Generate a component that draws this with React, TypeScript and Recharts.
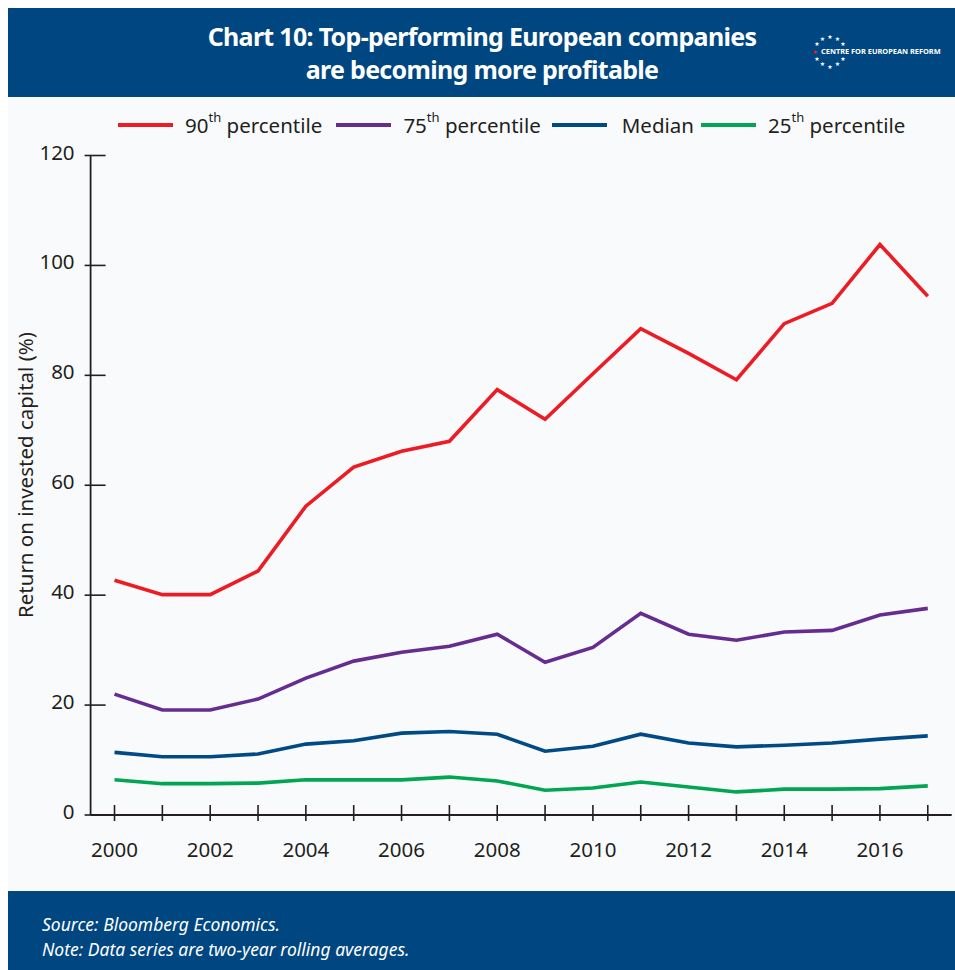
import React from 'react';
import { LineChart, Line, XAxis, YAxis } from 'recharts';

const years = [2000, 2001, 2002, 2003, 2004, 2005, 2006, 2007, 2008, 2009, 2010, 2011, 2012, 2013, 2014, 2015, 2016, 2017];
const p90 = [42.7, 40.1, 40.1, 44.4, 56.2, 63.3, 66.2, 68.0, 77.4, 72.0, 80.3, 88.5, 84.0, 79.2, 89.4, 93.1, 103.8, 94.4];
const p75 = [22.0, 19.1, 19.1, 21.1, 24.9, 28.0, 29.6, 30.7, 32.9, 27.8, 30.5, 36.7, 32.9, 31.8, 33.3, 33.6, 36.4, 37.6];
const median = [11.4, 10.6, 10.6, 11.1, 12.9, 13.5, 14.9, 15.2, 14.7, 11.6, 12.5, 14.7, 13.1, 12.4, 12.7, 13.1, 13.8, 14.4];
const p25 = [6.4, 5.7, 5.7, 5.8, 6.4, 6.4, 6.4, 6.9, 6.2, 4.5, 4.9, 6.0, 5.1, 4.2, 4.7, 4.7, 4.8, 5.3];
const yTicks = [0, 20, 40, 60, 80, 100, 120];

const series = [
  { key: 'p90', ord: '90', label: 'percentile', color: '#ed1c24', values: p90 },
  { key: 'p75', ord: '75', label: 'percentile', color: '#662d91', values: p75 },
  { key: 'median', ord: '', label: 'Median', color: '#004a85', values: median },
  { key: 'p25', ord: '25', label: 'percentile', color: '#00a651', values: p25 },
];
const legendGaps = [14, 11, 7, 0];

const data = years.map((year, i) => {
  const row: Record<string, number> = { year };
  series.forEach((s) => { row[s.key] = s.values[i]; });
  return row;
});

const FONT = '"Noto Sans", "Open Sans", sans-serif';
const INK = '#231f20';
const NAVY = '#004680';

const XTick = (props: any) => {
  const { x, y, payload } = props;
  const yr = payload.value;
  return (
    <g>
      <line x1={x} y1={y} x2={x} y2={y - 16} stroke={INK} strokeWidth={1.6} />
      {yr % 2 === 0 && (
        <text x={x} y={y + 28} textAnchor="middle" dominantBaseline="central" fontSize={20.5} fill={INK} fontFamily={FONT}>
          {yr}
        </text>
      )}
    </g>
  );
};

const YTick = (props: any) => {
  const { x, y, payload } = props;
  return (
    <g>
      <line x1={x} y1={y} x2={x + 21} y2={y} stroke={INK} strokeWidth={1.6} />
      <text x={x - 10} y={y - 4} textAnchor="end" dominantBaseline="central" fontSize={20.5} fill={INK} fontFamily={FONT}>
        {payload.value}
      </text>
    </g>
  );
};

const Logo = () => {
  const stars = [];
  for (let i = 0; i < 12; i++) {
    const a = (i / 12) * Math.PI * 2;
    stars.push(
      <text key={i} x={22 + 15 * Math.cos(a)} y={26 + 15 * Math.sin(a)} fontSize={6} fill={i === 6 ? '#ed1c24' : '#fff'} textAnchor="middle" dominantBaseline="central" fontFamily="DejaVu Sans">★</text>
    );
  }
  return (
    <svg width={140} height={52} style={{ position: 'absolute', left: 800, top: 17 }}>
      {stars.filter((_, i) => i !== 0)}
      <text x={13} y={26} fontSize={7.4} fontWeight={700} fill="#fff" dominantBaseline="central" fontFamily={FONT}>CENTRE FOR EUROPEAN REFORM</text>
    </svg>
  );
};

export default function App() {
  return (
    <div style={{ position: 'absolute', left: 8, top: 8, width: 947, height: 962, background: '#f9fafc', overflow: 'hidden', fontFamily: FONT }}>
      <LineChart width={947} height={883} data={data} margin={{ top: 147.5, right: 3.3, bottom: 0, left: 0 }} style={{ position: 'absolute', left: 0, top: 0 }}>
        <XAxis
          dataKey="year"
          type="number"
          domain={[1999.5, 2017.5]}
          ticks={years}
          interval={0}
          tickLine={false}
          tickMargin={0}
          tick={<XTick />}
          height={76}
          axisLine={{ stroke: INK, strokeWidth: 1.8 }}
        />
        <YAxis
          domain={[0, 120]}
          ticks={yTicks}
          interval={0}
          tickLine={false}
          tickMargin={0}
          tick={<YTick />}
          width={82.6}
          axisLine={{ stroke: INK, strokeWidth: 1.8 }}
        />
        {series.map((s) => (
          <Line key={s.key} dataKey={s.key} stroke={s.color} strokeWidth={3.6} dot={false} type="linear" isAnimationActive={false} strokeLinejoin="miter" />
        ))}
      </LineChart>

      <div style={{ position: 'absolute', left: 17, top: 467, transform: 'translate(-50%, -50%) rotate(-90deg)', whiteSpace: 'nowrap', fontSize: 20.5, color: INK }}>
        Return on invested capital (%)
      </div>

      <div style={{ position: 'absolute', left: 0, top: 0, width: 947, height: 89, background: NAVY }}>
        <div style={{ position: 'absolute', left: 0, width: 948, top: 12, textAlign: 'center', color: '#fff', fontWeight: 700, fontSize: 25, lineHeight: '33px', letterSpacing: -0.7 }}>
          Chart 10: Top-performing European companies<br />are becoming more profitable
        </div>
        <Logo />
      </div>

      <div style={{ position: 'absolute', left: 110, top: 103, height: 28, display: 'flex', alignItems: 'center', fontSize: 20.5, color: INK, whiteSpace: 'nowrap' }}>
        {series.map((s, i) => (
          <div key={s.key} style={{ display: 'flex', alignItems: 'center', marginRight: legendGaps[i] }}>
            <div style={{ width: 55, height: 4, background: s.color, marginRight: s.ord ? 12 : 15 }} />
            <span>
              {s.ord}
              {s.ord && <sup style={{ fontSize: 13, verticalAlign: 'top', position: 'relative', top: -3 }}>th</sup>}
              {s.ord ? ' ' : ''}
              {s.label}
            </span>
          </div>
        ))}
      </div>

      <div style={{ position: 'absolute', left: 0, top: 883, width: 947, height: 79, background: NAVY, color: '#fff', fontStyle: 'italic', fontSize: 17.5 }}>
        <div style={{ position: 'absolute', left: 34, top: 21, lineHeight: '25px' }}>
          Source: Bloomberg Economics.<br />Note: Data series are two-year rolling averages.
        </div>
      </div>
    </div>
  );
}
